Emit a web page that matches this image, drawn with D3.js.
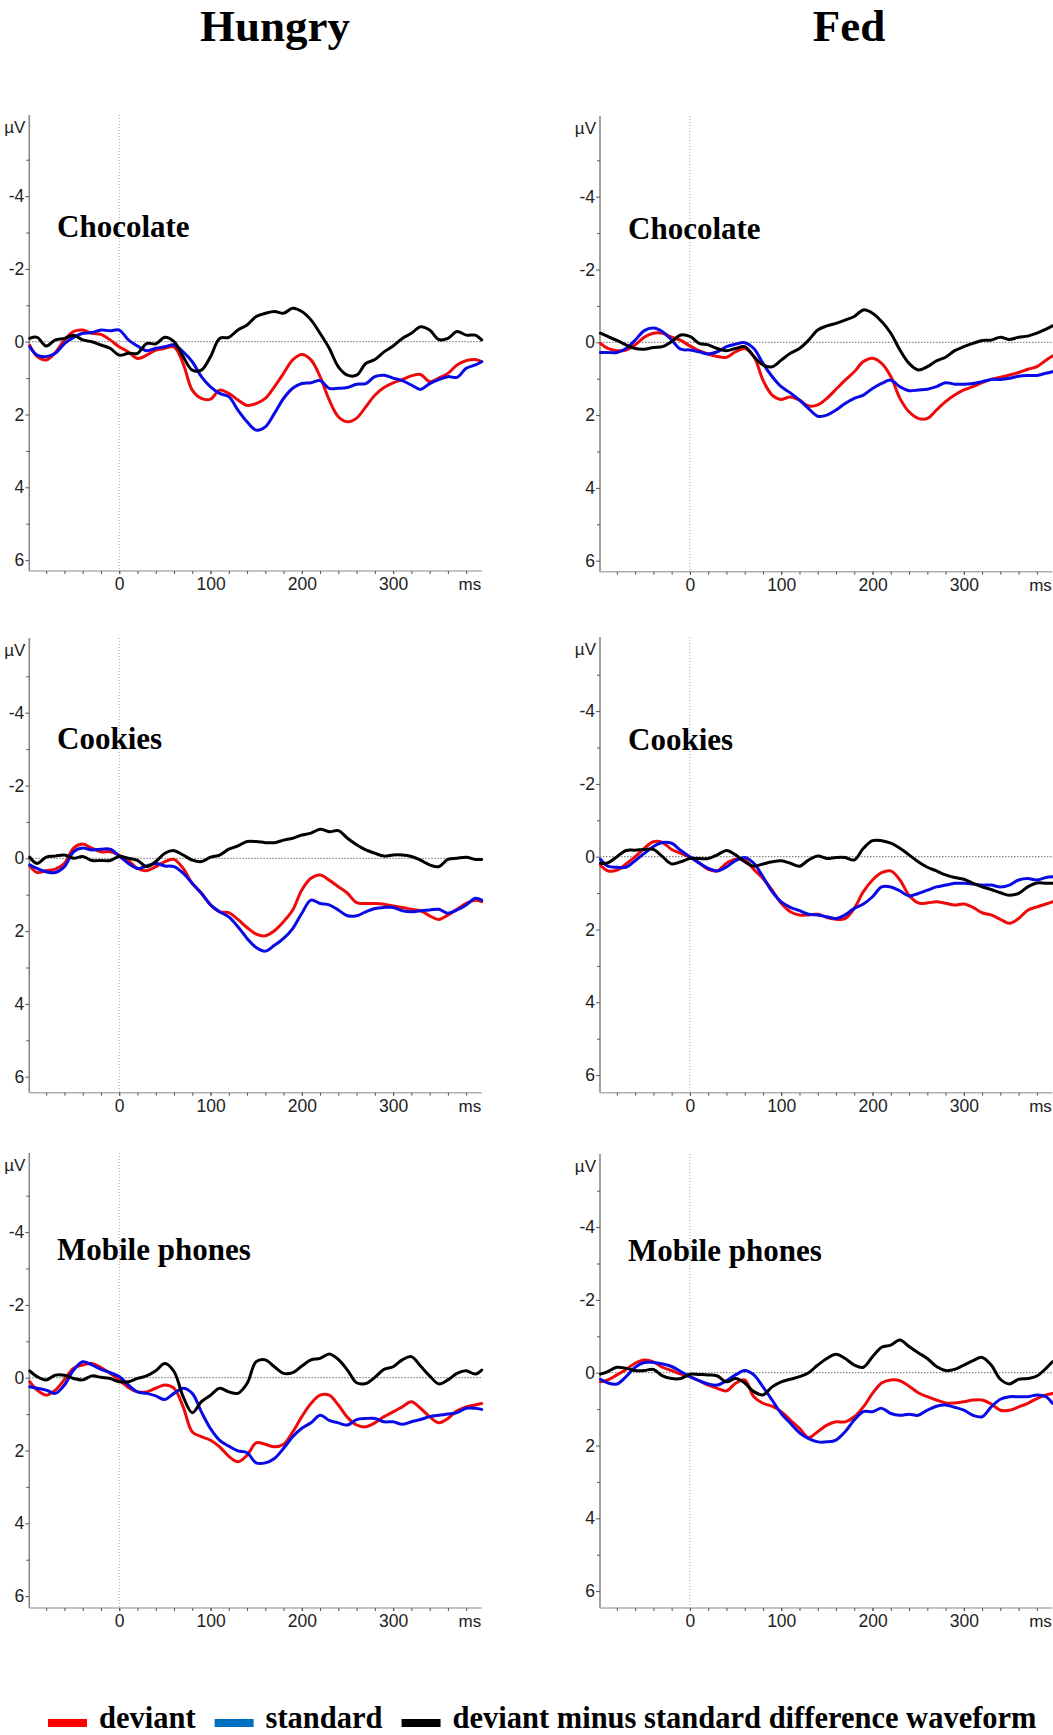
<!DOCTYPE html>
<html>
<head>
<meta charset="utf-8">
<script src="https://cdn.jsdelivr.net/npm/d3@7/dist/d3.min.js"></script>
<style>
  html, body { margin: 0; padding: 0; background: #fff; }
  svg { display: block; }
</style>
</head>
<body>
<script>
// Sample times (ms relative to stimulus onset)
const times = [-98, -90, -80, -70, -60, -50, -40, -30, -20, -10,
  0, 10, 20, 30, 40, 50, 60, 70, 80, 90,
  100, 110, 120, 130, 140, 150, 160, 170, 180, 190,
  200, 210, 220, 230, 240, 250, 260, 270, 280, 290,
  300, 310, 320, 330, 340, 350, 360, 370, 380, 390, 397];

const columnTitles = ["Hungry", "Fed"];
const stimulusLabels = ["Chocolate", "Cookies", "Mobile phones"];
const legendLabels = ["deviant", "standard", "deviant minus standard difference waveform"];
const yTickValues = [-4, -2, 0, 2, 4, 6];
const yMinorTicks = [-5, -3, -1, 1, 3, 5];
const xTickValues = [0, 100, 200, 300];

// Grand-average amplitudes (µV), one value per sample time
const hungryChocolateDeviant = [0.1, 0.4, 0.5, 0.3, -0.05, -0.28, -0.32, -0.23, -0.2, -0.05,
  0.14, 0.28, 0.46, 0.37, 0.23, 0.18, 0.14, 0.6, 1.33, 1.56,
  1.58, 1.33, 1.42, 1.6, 1.75, 1.7, 1.56, 1.24, 0.87, 0.5,
  0.35, 0.5, 0.96, 1.6, 2.06, 2.2, 2.1, 1.79, 1.47, 1.26,
  1.13, 1.04, 0.94, 0.9, 1.1, 1.0, 0.87, 0.64, 0.52, 0.49, 0.55];
const hungryChocolateStandard = [0.14, 0.37, 0.41, 0.32, 0.05, -0.12, -0.23, -0.25, -0.32, -0.3,
  -0.32, -0.05, 0.12, 0.25, 0.18, 0.14, 0.09, 0.28, 0.55, 0.96,
  1.24, 1.42, 1.51, 1.88, 2.2, 2.43, 2.34, 1.97, 1.56, 1.28,
  1.15, 1.13, 1.07, 1.28, 1.28, 1.26, 1.17, 1.15, 0.96, 0.92,
  1.0, 1.07, 1.19, 1.31, 1.15, 1.04, 0.96, 0.98, 0.73, 0.64, 0.55];
const hungryChocolateDifference = [-0.09, -0.12, 0.12, -0.05, -0.09, -0.18, -0.05, 0, 0.09, 0.18,
  0.37, 0.32, 0.32, 0.05, 0.06, -0.12, 0, 0.41, 0.78, 0.78,
  0.41, -0.09, -0.12, -0.32, -0.46, -0.69, -0.78, -0.83, -0.78, -0.92,
  -0.83, -0.6, -0.23, 0.18, 0.69, 0.92, 0.92, 0.6, 0.49, 0.28,
  0.12, -0.09, -0.23, -0.41, -0.32, -0.06, -0.09, -0.28, -0.18, -0.18, -0.05];

const fedChocolateDeviant = [0.03, 0.17, 0.23, 0.21, 0.07, -0.14, -0.25, -0.25, -0.14, -0.05,
  0.1, 0.23, 0.32, 0.39, 0.41, 0.26, 0.17, 0.39, 1.04, 1.45,
  1.57, 1.5, 1.59, 1.75, 1.72, 1.54, 1.29, 1.04, 0.81, 0.53,
  0.44, 0.58, 0.94, 1.54, 1.91, 2.09, 2.09, 1.86, 1.63, 1.45,
  1.31, 1.22, 1.11, 1.02, 0.96, 0.9, 0.83, 0.74, 0.67, 0.49, 0.38];
const fedChocolateStandard = [0.28, 0.28, 0.28, 0.17, -0.06, -0.32, -0.39, -0.29, -0.06, 0.19,
  0.21, 0.26, 0.32, 0.26, 0.12, 0.05, 0.01, 0.17, 0.58, 0.94,
  1.22, 1.39, 1.59, 1.82, 2.03, 2.0, 1.86, 1.68, 1.54, 1.45,
  1.27, 1.13, 1.04, 1.22, 1.33, 1.31, 1.29, 1.22, 1.11, 1.15,
  1.15, 1.13, 1.08, 1.02, 1.02, 0.99, 0.93, 0.91, 0.91, 0.85, 0.81];
const fedChocolateDifference = [-0.25, -0.16, -0.05, 0.07, 0.17, 0.19, 0.14, 0.12, -0.02, -0.2,
  -0.16, 0.03, 0.07, 0.17, 0.23, 0.17, 0.12, 0.39, 0.62, 0.67,
  0.49, 0.3, 0.17, -0.06, -0.34, -0.45, -0.52, -0.61, -0.71, -0.89,
  -0.8, -0.57, -0.25, 0.21, 0.58, 0.76, 0.67, 0.51, 0.41, 0.23,
  0.12, 0.03, -0.05, -0.06, -0.14, -0.08, -0.14, -0.17, -0.25, -0.36, -0.45];

const hungryCookiesDeviant = [0.21, 0.39, 0.34, 0.3, 0.14, -0.28, -0.39, -0.28, -0.18, -0.18,
  -0.09, 0.06, 0.28, 0.34, 0.23, 0.09, 0.03, 0.28, 0.69, 0.96,
  1.28, 1.47, 1.49, 1.68, 1.9, 2.08, 2.13, 1.99, 1.74, 1.42,
  0.87, 0.55, 0.46, 0.6, 0.78, 0.96, 1.22, 1.24, 1.24, 1.26,
  1.31, 1.35, 1.4, 1.44, 1.58, 1.68, 1.56, 1.4, 1.24, 1.15, 1.19];
const hungryCookiesStandard = [0.18, 0.28, 0.37, 0.39, 0.23, -0.18, -0.28, -0.23, -0.25, -0.25,
  -0.06, 0.14, 0.28, 0.21, 0.14, 0.21, 0.23, 0.41, 0.69, 0.96,
  1.28, 1.47, 1.61, 1.88, 2.2, 2.45, 2.55, 2.39, 2.2, 1.93,
  1.51, 1.15, 1.24, 1.28, 1.42, 1.58, 1.58, 1.47, 1.38, 1.35,
  1.35, 1.44, 1.47, 1.44, 1.42, 1.4, 1.51, 1.42, 1.28, 1.1, 1.15];
const hungryCookiesDifference = [-0.03, 0.14, -0.03, -0.06, -0.09, 0, -0.05, 0.06, 0.06, 0.06,
  -0.05, 0, 0.06, 0.23, 0.09, -0.14, -0.21, -0.09, 0.05, 0.09,
  -0.03, -0.09, -0.25, -0.34, -0.46, -0.46, -0.43, -0.43, -0.5, -0.55,
  -0.64, -0.69, -0.8, -0.73, -0.76, -0.55, -0.37, -0.23, -0.14, -0.06,
  -0.09, -0.09, -0.05, 0.05, 0.18, 0.23, 0.03, 0, -0.03, 0.03, 0.03];

const fedCookiesDeviant = [0.23, 0.39, 0.37, 0.2, 0, -0.23, -0.41, -0.39, -0.2, -0.09,
  0.02, 0.17, 0.35, 0.39, 0.18, 0.07, 0.09, 0.35, 0.6, 0.92,
  1.28, 1.51, 1.6, 1.6, 1.58, 1.67, 1.72, 1.7, 1.42, 0.96,
  0.64, 0.44, 0.39, 0.64, 1.06, 1.27, 1.27, 1.24, 1.28, 1.33,
  1.3, 1.39, 1.54, 1.6, 1.72, 1.83, 1.7, 1.47, 1.38, 1.3, 1.24];
const fedCookiesStandard = [0.07, 0.26, 0.29, 0.29, 0.11, -0.09, -0.28, -0.39, -0.37, -0.17,
  0, 0.17, 0.32, 0.39, 0.28, 0.11, 0.02, 0.18, 0.55, 0.96,
  1.24, 1.39, 1.48, 1.58, 1.6, 1.65, 1.7, 1.6, 1.42, 1.3,
  1.1, 0.83, 0.83, 0.94, 1.08, 1.01, 0.92, 0.83, 0.78, 0.73,
  0.73, 0.75, 0.78, 0.78, 0.83, 0.78, 0.64, 0.6, 0.64, 0.57, 0.55];
const fedCookiesDifference = [0.18, 0.17, 0, -0.17, -0.18, -0.2, -0.2, 0, 0.2, 0.14,
  0.05, 0.05, 0.05, -0.05, -0.17, -0.05, 0.14, 0.26, 0.2, 0.14,
  0.11, 0.18, 0.26, 0.09, -0.02, 0.05, 0.02, 0.02, 0.09, -0.23,
  -0.44, -0.44, -0.37, -0.23, -0.05, 0.14, 0.29, 0.39, 0.5, 0.57,
  0.62, 0.73, 0.83, 0.9, 0.99, 1.06, 1.01, 0.83, 0.72, 0.73, 0.73];

const hungryPhonesDeviant = [0.11, 0.34, 0.48, 0.34, 0.05, -0.26, -0.35, -0.39, -0.28, -0.12,
  0.06, 0.27, 0.39, 0.39, 0.29, 0.2, 0.29, 0.8, 1.49, 1.62,
  1.72, 1.9, 2.16, 2.31, 2.13, 1.79, 1.83, 1.9, 1.83, 1.49,
  1.07, 0.71, 0.48, 0.48, 0.75, 1.09, 1.3, 1.35, 1.24, 1.07,
  0.94, 0.8, 0.66, 0.84, 1.07, 1.24, 1.12, 0.91, 0.8, 0.75, 0.71];
const hungryPhonesStandard = [0.25, 0.29, 0.34, 0.43, 0.2, -0.21, -0.44, -0.35, -0.23, -0.14,
  -0.03, 0.2, 0.39, 0.43, 0.5, 0.6, 0.43, 0.29, 0.43, 0.94,
  1.4, 1.72, 1.88, 2.01, 2.06, 2.34, 2.34, 2.22, 1.94, 1.62,
  1.39, 1.24, 1.03, 1.17, 1.24, 1.3, 1.15, 1.12, 1.12, 1.21,
  1.21, 1.28, 1.21, 1.15, 1.07, 1.03, 1.0, 0.96, 0.84, 0.84, 0.87];
const hungryPhonesDifference = [-0.19, -0.03, 0.06, -0.07, -0.07, 0.02, 0.06, -0.05, -0.01, 0.02,
  0.11, 0.11, 0.02, -0.05, -0.19, -0.39, -0.17, 0.52, 0.96, 0.66,
  0.48, 0.29, 0.39, 0.43, 0.16, -0.44, -0.49, -0.3, -0.12, -0.14,
  -0.32, -0.49, -0.53, -0.65, -0.5, -0.21, 0.14, 0.16, -0.01, -0.23,
  -0.3, -0.49, -0.58, -0.32, -0.05, 0.17, 0.06, -0.12, -0.19, -0.1, -0.21];

const fedPhonesDeviant = [0.25, 0.2, 0.06, -0.09, -0.26, -0.35, -0.3, -0.15, -0.06, 0.04,
  0.11, 0.22, 0.34, 0.43, 0.5, 0.29, 0.2, 0.66, 0.84, 0.92,
  1.07, 1.3, 1.53, 1.78, 1.62, 1.44, 1.35, 1.35, 1.21, 0.94,
  0.57, 0.28, 0.2, 0.22, 0.37, 0.55, 0.66, 0.75, 0.83, 0.83,
  0.8, 0.75, 0.75, 0.86, 1.03, 1.03, 0.94, 0.84, 0.71, 0.61, 0.57];
const fedPhonesStandard = [0.18, 0.28, 0.31, 0.11, -0.15, -0.28, -0.28, -0.24, -0.17, -0.03,
  0.11, 0.22, 0.31, 0.34, 0.22, 0.06, -0.06, 0.06, 0.39, 0.75,
  1.12, 1.39, 1.65, 1.81, 1.9, 1.9, 1.85, 1.62, 1.3, 1.07,
  1.07, 0.98, 1.12, 1.17, 1.14, 1.17, 1.03, 0.92, 0.89, 0.95,
  1.03, 1.17, 1.21, 0.94, 0.73, 0.66, 0.66, 0.66, 0.61, 0.66, 0.84];
const fedPhonesDifference = [0.04, -0.03, -0.15, -0.12, -0.06, -0.06, -0.09, 0.09, 0.16, 0.16,
  0.04, 0.05, 0.06, 0.09, 0.25, 0.16, 0.28, 0.52, 0.61, 0.39,
  0.25, 0.18, 0.11, 0, -0.21, -0.39, -0.51, -0.39, -0.21, -0.15,
  -0.44, -0.7, -0.76, -0.9, -0.72, -0.55, -0.39, -0.17, -0.06, -0.09,
  -0.21, -0.33, -0.42, -0.21, 0.18, 0.31, 0.18, 0.16, 0.09, -0.12, -0.3];

// Panels in reading order: row = stimulus, column = state
const panels = [
  { row: 0, col: 0, series: [hungryChocolateDeviant, hungryChocolateStandard, hungryChocolateDifference] },
  { row: 0, col: 1, series: [fedChocolateDeviant, fedChocolateStandard, fedChocolateDifference] },
  { row: 1, col: 0, series: [hungryCookiesDeviant, hungryCookiesStandard, hungryCookiesDifference] },
  { row: 1, col: 1, series: [fedCookiesDeviant, fedCookiesStandard, fedCookiesDifference] },
  { row: 2, col: 0, series: [hungryPhonesDeviant, hungryPhonesStandard, hungryPhonesDifference] },
  { row: 2, col: 1, series: [fedPhonesDeviant, fedPhonesStandard, fedPhonesDifference] }
];

// ---- layout ----
const W = 1053, H = 1735;
const lineColors = ["#ee0a0a", "#0a0ae6", "#000000"];
const legendColors = ["#ff0000", "#0070c0", "#000000"];
const colLeft = [29.3, 600];
const labelX = [57, 628];
const frames = [ // axis top, axis bottom, zero line, label baseline per panel
  { top: 115, bottom: 571, zero: 341.7, labelY: 237 },
  { top: 116, bottom: 571.7, zero: 342.3, labelY: 239 },
  { top: 638, bottom: 1092.7, zero: 858.3, labelY: 749 },
  { top: 637, bottom: 1092.7, zero: 856.7, labelY: 750 },
  { top: 1153, bottom: 1608, zero: 1377.7, labelY: 1260 },
  { top: 1154, bottom: 1608, zero: 1372.7, labelY: 1261 }
];
const PX_PER_UV = 36.4;
const PX_PER_MS = 0.913;
const X_START = -98.5, X_END = 397;

const serif = "'Liberation Serif', 'Times New Roman', serif";
const sans = "'Liberation Sans', Arial, sans-serif";

const svg = d3.select("body").append("svg")
  .attr("width", W).attr("height", H)
  .attr("viewBox", `0 0 ${W} ${H}`);
svg.append("rect").attr("width", W).attr("height", H).attr("fill", "#fff");

// column titles
svg.selectAll("text.col-title").data(columnTitles).join("text")
  .attr("class", "col-title")
  .attr("x", (d, i) => [275, 849][i])
  .attr("y", 41)
  .attr("text-anchor", "middle")
  .attr("font-family", serif).attr("font-weight", "bold").attr("font-size", 45)
  .attr("fill", "#000")
  .text(d => d);

const line = (x, y) => d3.line()
  .x((d, i) => x(times[i]))
  .y(d => y(d))
  .curve(d3.curveCatmullRom.alpha(0.5));

panels.forEach((p, k) => {
  const f = frames[k];
  const left = colLeft[p.col];
  const x = d3.scaleLinear().domain([X_START, X_END])
    .range([left, left + (X_END - X_START) * PX_PER_MS]);
  const y = d3.scaleLinear()
    .domain([(f.top - f.zero) / PX_PER_UV, (f.bottom - f.zero) / PX_PER_UV])
    .range([f.top, f.bottom]);
  const g = svg.append("g");

  // stimulus onset (vertical dotted) and baseline (horizontal dotted)
  g.append("line")
    .attr("x1", x(0)).attr("x2", x(0)).attr("y1", f.top).attr("y2", f.bottom)
    .attr("stroke", "#a0a0a0").attr("stroke-width", 1).attr("stroke-dasharray", "1,2");
  g.append("line")
    .attr("x1", x(X_START)).attr("x2", x(X_END)).attr("y1", y(0)).attr("y2", y(0))
    .attr("stroke", "#6a6a6a").attr("stroke-width", 1).attr("stroke-dasharray", "1.5,1.5");

  // y axis
  const yAxis = g.append("g").attr("transform", `translate(${left},0)`)
    .call(d3.axisLeft(y).tickValues(yTickValues).tickSize(4).tickPadding(1)
      .tickFormat(d => String(d)));
  const yMinor = g.append("g").attr("transform", `translate(${left},0)`)
    .call(d3.axisLeft(y).tickValues(yMinorTicks).tickSize(3).tickFormat(""));
  yMinor.select(".domain").remove();
  yAxis.select(".domain").attr("stroke", "#8a8a8a").attr("stroke-width", 1.6)
    .attr("d", `M0,${f.top}V${f.bottom}`);
  g.append("text")
    .attr("x", left - 4).attr("y", f.top + 13)
    .attr("dy", "0.32em").attr("text-anchor", "end")
    .attr("font-family", sans).attr("font-size", 17).attr("fill", "#222")
    .text("µV");

  // x axis
  const xAxis = g.append("g").attr("transform", `translate(0,${f.bottom})`)
    .call(d3.axisBottom(x).tickValues(xTickValues).tickSize(3).tickPadding(4)
      .tickFormat(d => String(d)));
  xAxis.select(".domain").attr("stroke", "#b0b0b0").attr("stroke-width", 1.4)
    .attr("d", `M${x(X_START)},0H${x(X_END)}`);
  const minorX = [];
  for (let t = -80; t <= 380; t += 20) minorX.push(t);
  const xMinor = g.append("g").attr("transform", `translate(0,${f.bottom})`)
    .call(d3.axisBottom(x).tickValues(minorX).tickSize(3).tickFormat(""));
  xMinor.select(".domain").remove();
  g.append("text")
    .attr("x", x(384)).attr("y", f.bottom + 7).attr("dy", "0.71em")
    .attr("text-anchor", "middle")
    .attr("font-family", sans).attr("font-size", 17).attr("fill", "#222")
    .text("ms");

  g.selectAll(".tick text")
    .attr("font-family", sans).attr("font-size", 17.5).attr("fill", "#222");
  g.selectAll(".tick line").attr("stroke", "#555").attr("stroke-width", 1);

  // stimulus label
  g.append("text")
    .attr("x", labelX[p.col]).attr("y", f.labelY)
    .attr("font-family", serif).attr("font-weight", "bold").attr("font-size", 31)
    .attr("fill", "#000")
    .text(stimulusLabels[p.row]);

  // waveforms: deviant, standard, then difference on top
  p.series.forEach((vals, s) => {
    g.append("path")
      .datum(vals)
      .attr("d", line(x, y))
      .attr("fill", "none")
      .attr("stroke", lineColors[s])
      .attr("stroke-width", 3)
      .attr("stroke-linejoin", "round")
      .attr("stroke-linecap", "round");
  });
});

// legend
const legend = svg.append("g");
let cursor = 48;
legendLabels.forEach((lab, i) => {
  legend.append("rect")
    .attr("x", cursor).attr("y", 1719).attr("width", 39).attr("height", 8)
    .attr("fill", legendColors[i]);
  cursor += 39 + 12;
  const t = legend.append("text")
    .attr("x", cursor).attr("y", 1728)
    .attr("font-family", serif).attr("font-weight", "bold").attr("font-size", 30.5)
    .attr("fill", "#000")
    .text(lab);
  cursor += t.node().getComputedTextLength() + 19;
});
</script>
</body>
</html>
